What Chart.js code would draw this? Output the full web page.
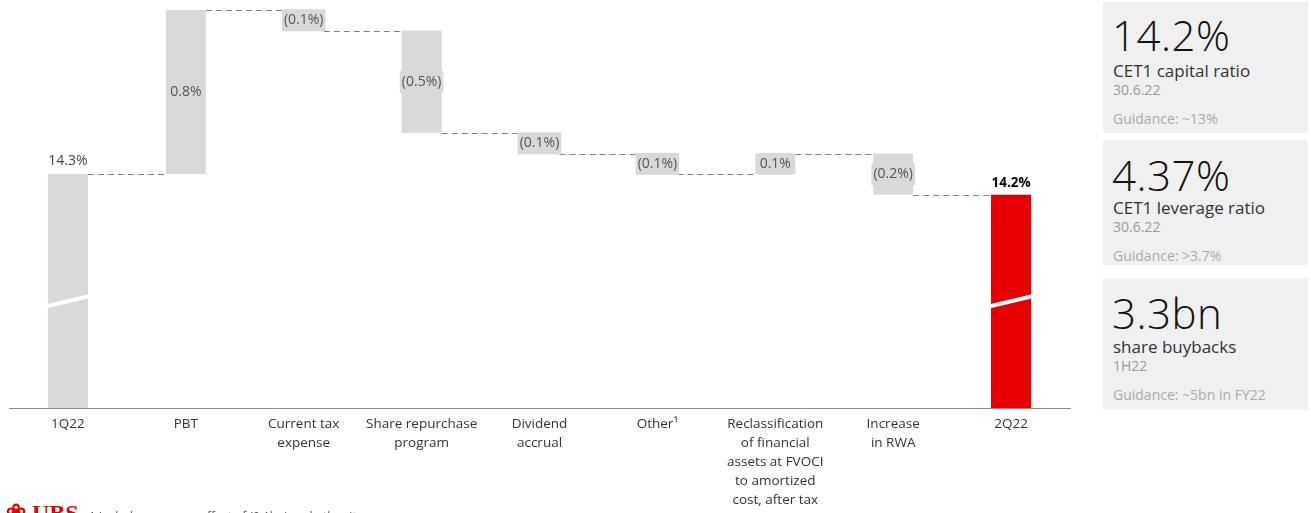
<!DOCTYPE html>
<html>
<head>
<meta charset="utf-8">
<script src="https://cdn.jsdelivr.net/npm/chart.js@4.4.1/dist/chart.umd.min.js"></script>
<style>
  html, body { margin: 0; padding: 0; background: #fff; overflow: hidden; }
  body { width: 1311px; height: 513px; position: relative; font-family: "Open Sans", "Noto Sans", sans-serif; }
  #chartBox { position: absolute; left: 0; top: 0; width: 1080px; height: 513px; }
  .kpi { position: absolute; left: 1103px; width: 205px; background: #f0f0f0; }
  .kpi .big { position: absolute; left: 9px; font-size: 42px; font-weight: 300; color: #111; line-height: 1; letter-spacing: 0.5px; }
  .kpi .name { position: absolute; left: 10px; font-size: 17px; color: #333; line-height: 1; }
  .kpi .date { position: absolute; left: 10px; font-size: 14px; color: #9a9a9a; line-height: 1; }
  .kpi .guide { position: absolute; left: 10px; font-size: 14px; color: #aaa; line-height: 1; }
  #foot { position: absolute; left: 6px; top: 499px; white-space: nowrap; }
  #foot .logo { font-family: "Liberation Serif", serif; font-weight: bold; color: #e60000; font-size: 24px; }
  #foot .note { font-size: 12px; color: #555; margin-left: 10px; }
</style>
</head>
<body>
<div id="chartBox"><canvas id="bridgeChart"></canvas></div>

<div class="kpi" style="top:2px;height:131px;">
  <div class="big" style="top:12px;">14.2%</div>
  <div class="name" style="top:60px;">CET1 capital ratio</div>
  <div class="date" style="top:81px;">30.6.22</div>
  <div class="guide" style="top:110px;">Guidance: ~13%</div>
</div>
<div class="kpi" style="top:140px;height:125px;">
  <div class="big" style="top:14px;">4.37%</div>
  <div class="name" style="top:59px;">CET1 leverage ratio</div>
  <div class="date" style="top:80px;">30.6.22</div>
  <div class="guide" style="top:109px;">Guidance: &gt;3.7%</div>
</div>
<div class="kpi" style="top:278px;height:132px;">
  <div class="big" style="top:14px;">3.3bn</div>
  <div class="name" style="top:60px;">share buybacks</div>
  <div class="date" style="top:81px;">1H22</div>
  <div class="guide" style="top:110px;">Guidance: ~5bn in FY22</div>
</div>

<div id="foot"><span class="logo">&#10048; UBS</span><span class="note">1 Includes currency effect of (0.1bn) and other items</span></div>

<script>
// CET1 capital ratio bridge, 1Q22 -> 2Q22 (in %)
const categories = [
    ['1Q22'],
    ['PBT'],
    ['Current tax', 'expense'],
    ['Share repurchase', 'program'],
    ['Dividend', 'accrual'],
    ['Other\u00b9'],
    ['Reclassification', 'of financial', 'assets at FVOCI', 'to amortized', 'cost, after tax'],
    ['Increase', 'in RWA'],
    ['2Q22']
];
const startRatio = 14.3;
const changes = [0.8, -0.1, -0.5, -0.1, -0.1, 0.1, -0.2];
const endRatio = 14.2;

// value axis is cut (see break marks on the total bars)
const axisFloor = 13.16;
const axisTop = 15.1;
const breakAt = 13.68;

const GREY = '#d9d9d9';
const RED = '#e60000';
const FONT = '"Open Sans", "Noto Sans", sans-serif';

// floating ranges for the waterfall
const ranges = [];
const colors = [];
const kinds = [];
let running = startRatio;
ranges.push([axisFloor, startRatio]); colors.push(GREY); kinds.push('total');
changes.forEach(d => {
    ranges.push([running, running + d]);
    colors.push(GREY);
    kinds.push('change');
    running = Math.round((running + d) * 10) / 10;
});
ranges.push([axisFloor, endRatio]); colors.push(RED); kinds.push('end');

function fmtChange(d) {
    const s = Math.abs(d).toFixed(1) + '%';
    return d < 0 ? '(' + s + ')' : s;
}

const waterfallPlugin = {
    id: 'waterfall',
    afterDatasetsDraw(chart) {
        const ctx = chart.ctx;
        const meta = chart.getDatasetMeta(0);
        const y = chart.scales.y;
        ctx.save();

        // dashed connectors between bars
        ctx.strokeStyle = '#808080';
        ctx.lineWidth = 1;
        ctx.setLineDash([6, 4]);
        for (let i = 0; i < meta.data.length - 1; i++) {
            const bar = meta.data[i];
            const next = meta.data[i + 1];
            const level = ranges[i][1];
            const py = Math.round(y.getPixelForValue(level)) + 0.5;
            ctx.beginPath();
            ctx.moveTo(bar.x + bar.width / 2, py);
            ctx.lineTo(next.x - next.width / 2, py);
            ctx.stroke();
        }
        ctx.setLineDash([]);

        // break marks on the total bars
        ctx.strokeStyle = '#ffffff';
        ctx.lineWidth = 4;
        const by = y.getPixelForValue(breakAt);
        [0, meta.data.length - 1].forEach(i => {
            const bar = meta.data[i];
            ctx.beginPath();
            ctx.moveTo(bar.x - bar.width / 2 - 1, by + 5);
            ctx.lineTo(bar.x + bar.width / 2 + 1, by - 5);
            ctx.stroke();
        });

        // value labels
        ctx.font = '14px ' + FONT;
        ctx.textAlign = 'center';
        ctx.textBaseline = 'middle';
        meta.data.forEach((bar, i) => {
            if (kinds[i] === 'change') {
                const d = changes[i - 1];
                const txt = fmtChange(d);
                const cy = y.getPixelForValue((ranges[i][0] + ranges[i][1]) / 2);
                const w = ctx.measureText(txt).width + 4;
                ctx.fillStyle = GREY;
                ctx.fillRect(bar.x - w / 2, cy - 11, w, 22);
                ctx.fillStyle = '#555';
                ctx.fillText(txt, bar.x, cy);
            } else if (kinds[i] === 'total') {
                ctx.fillStyle = '#444';
                ctx.fillText(startRatio.toFixed(1) + '%', bar.x, y.getPixelForValue(startRatio) - 13);
            } else {
                ctx.font = 'bold 13.5px ' + FONT;
                ctx.fillStyle = '#000';
                ctx.fillText(endRatio.toFixed(1) + '%', bar.x, y.getPixelForValue(endRatio) - 11);
            }
        });
        ctx.restore();
    }
};

new Chart(document.getElementById('bridgeChart').getContext('2d'), {
    type: 'bar',
    data: {
        labels: categories,
        datasets: [{
            data: ranges,
            backgroundColor: colors,
            borderWidth: 0,
            borderSkipped: false,
            categoryPercentage: 1,
            barPercentage: 0.34
        }]
    },
    options: {
        responsive: true,
        maintainAspectRatio: false,
        animation: false,
        layout: { padding: { left: 9, right: 10, top: 10, bottom: 0 } },
        plugins: {
            legend: { display: false },
            tooltip: { enabled: false }
        },
        scales: {
            x: {
                grid: { display: false, drawTicks: false },
                border: { display: true, color: '#8c8c8c', width: 1 },
                ticks: {
                    padding: 7,
                    color: '#333',
                    maxRotation: 0,
                    autoSkip: false,
                    font: { family: FONT, size: 13.5, lineHeight: 1.4 }
                },
                afterFit(scale) { scale.height = 105; }
            },
            y: {
                display: false,
                min: axisFloor,
                max: axisTop
            }
        }
    },
    plugins: [waterfallPlugin]
});
</script>
</body>
</html>
